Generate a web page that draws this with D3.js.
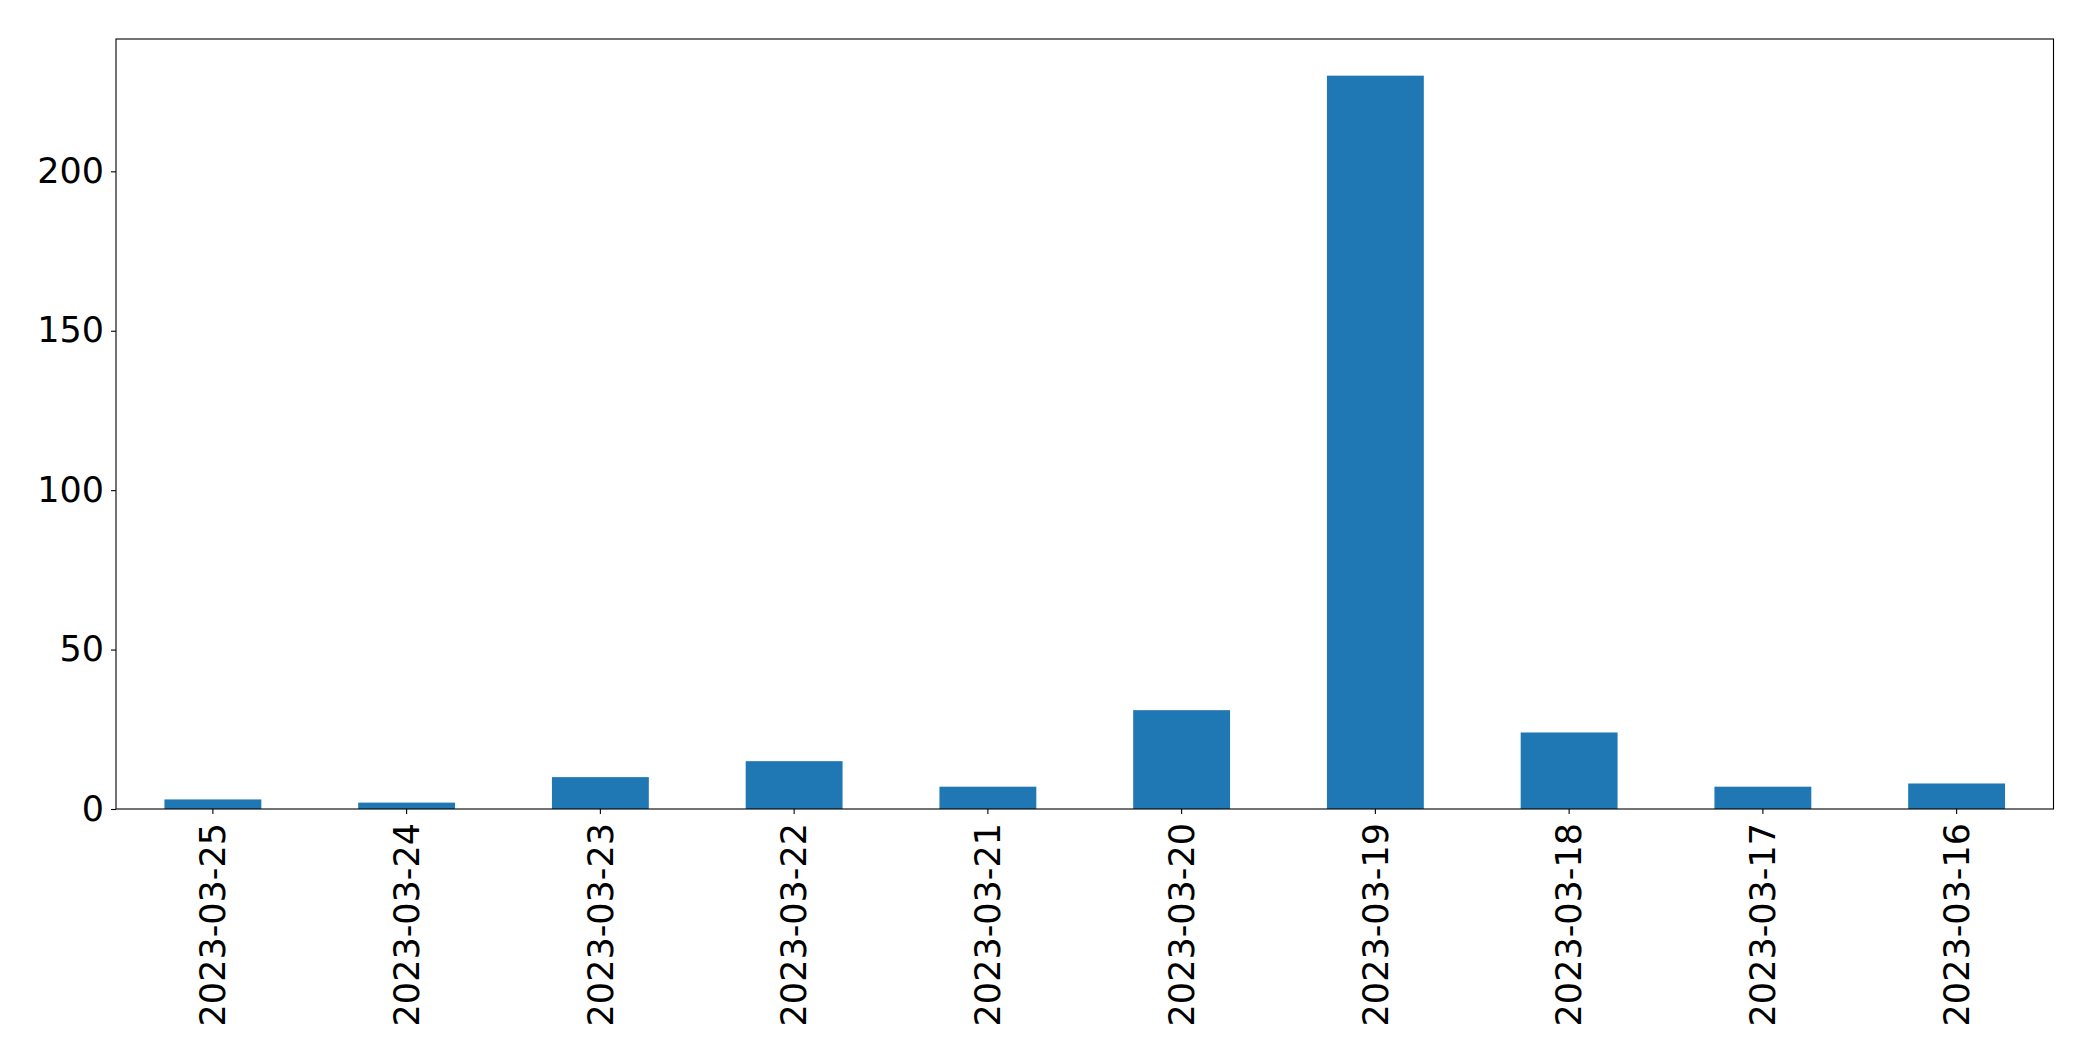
<!DOCTYPE html>
<html>
<head>
<meta charset="utf-8">
<script src="https://cdn.jsdelivr.net/npm/d3@7"></script>
<style>
html,body{margin:0;padding:0;background:#fff;}
svg{display:block;}
</style>
</head>
<body>
<script>
const categories = ["2023-03-25","2023-03-24","2023-03-23","2023-03-22","2023-03-21","2023-03-20","2023-03-19","2023-03-18","2023-03-17","2023-03-16"];
const values = [3, 2, 10, 15, 7, 31, 230, 24, 7, 8];
const yTicks = [0, 50, 100, 150, 200];

const W = 2093, H = 1061;
const m = {left: 116, right: W - 2053.5, top: 39, bottom: H - 809};
const svg = d3.select("body").append("svg").attr("width", W).attr("height", H);

const x = d3.scaleBand().domain(categories).range([m.left, W - m.right]).paddingInner(0.5).paddingOuter(0.25);
const ymax = d3.max(values) * 1.05;
const y = d3.scaleLinear().domain([0, ymax]).range([H - m.bottom, m.top]);

svg.append("g").selectAll("rect").data(values).join("rect")
  .attr("x", (d, i) => x(categories[i]))
  .attr("width", x.bandwidth())
  .attr("y", d => y(d))
  .attr("height", d => y(0) - y(d))
  .attr("fill", "#1f77b4");

const font = "'DejaVu Sans', sans-serif";

const xa = svg.append("g").attr("transform", `translate(0,${H - m.bottom})`)
  .call(d3.axisBottom(x).tickSize(5).tickPadding(8).tickSizeOuter(0));
xa.select(".domain").remove();
xa.selectAll("line").attr("stroke", "#000").attr("stroke-width", 1.1);
xa.selectAll("text")
  .style("font-family", font).style("font-size", "35px").attr("fill", "#000")
  .attr("transform", "rotate(-90)")
  .attr("text-anchor", "end")
  .attr("x", -14).attr("y", 0).attr("dy", "0.35em");

const ya = svg.append("g").attr("transform", `translate(${m.left},0)`)
  .call(d3.axisLeft(y).tickValues(yTicks).tickSize(5).tickPadding(7).tickSizeOuter(0));
ya.select(".domain").remove();
ya.selectAll("line").attr("stroke", "#000").attr("stroke-width", 1.1);
ya.selectAll("text").style("font-family", font).style("font-size", "35px").attr("fill", "#000");

svg.append("rect").attr("x", m.left).attr("y", m.top)
  .attr("width", W - m.right - m.left).attr("height", H - m.bottom - m.top)
  .attr("fill", "none").attr("stroke", "#000").attr("stroke-width", 1.1);
</script>
</body>
</html>
